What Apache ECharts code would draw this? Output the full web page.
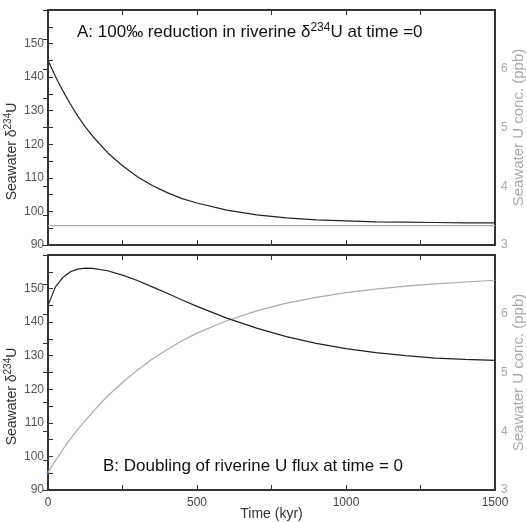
<!DOCTYPE html>
<html>
<head>
<meta charset="utf-8">
<script src="https://cdn.jsdelivr.net/npm/echarts@6/dist/echarts.min.js"></script>
<style>
  html, body { margin: 0; padding: 0; background: #fff; }
  #chart { width: 527px; height: 522px; }
</style>
</head>
<body>
<div id="chart"></div>
<script>
// time axis (kyr)
var timeKyr = [0, 25, 50, 75, 100, 125, 150, 200, 250, 300, 350, 400, 450, 500,
               600, 700, 800, 900, 1000, 1100, 1200, 1300, 1400, 1500];

// panel A: seawater d234U and U conc.
var deltaA = [145.0, 140.2, 135.9, 132.0, 128.4, 125.2, 122.4, 117.5, 113.6, 110.3, 107.7, 105.6, 103.8, 102.5,
              100.4, 99.0, 98.1, 97.5, 97.2, 96.9, 96.8, 96.7, 96.6, 96.6];
var concA = [3.33, 3.33, 3.33, 3.33, 3.33, 3.33, 3.33, 3.33, 3.33, 3.33, 3.33, 3.33, 3.33, 3.33,
             3.33, 3.33, 3.33, 3.33, 3.33, 3.33, 3.33, 3.33, 3.33, 3.33];

// panel B
var deltaB = [145.0, 150.5, 153.3, 155.0, 155.8, 156.1, 156.0, 155.3, 154.0, 152.4, 150.5, 148.6, 146.6, 144.7,
              141.2, 138.2, 135.7, 133.7, 132.1, 130.9, 130.0, 129.3, 128.9, 128.6];
var concB = [3.30, 3.50, 3.69, 3.87, 4.03, 4.18, 4.33, 4.60, 4.83, 5.04, 5.23, 5.39, 5.54, 5.67,
             5.88, 6.05, 6.18, 6.28, 6.36, 6.42, 6.47, 6.51, 6.54, 6.57];

function pairs(xs, ys) {
    return xs.map(function (x, i) { return [x, ys[i]]; });
}

var chart = echarts.init(document.getElementById('chart'));
var font = 'Liberation Sans, Arial, sans-serif';
var supStyle = { fontSize: 10, fontFamily: font, padding: [0, 0, 8, 0], verticalAlign: 'bottom' };

function xAxisFor(grid, pos, showLabel) {
    return {
        type: 'value', gridIndex: grid, position: pos, min: 0, max: 1500, interval: 250,
        axisLine: { show: false },
        axisTick: { inside: true, length: 5, lineStyle: { color: '#333' } },
        splitLine: { show: false },
        axisLabel: {
            show: showLabel, color: '#444', fontSize: 12, fontFamily: font, margin: 7,
            formatter: function (v) { return v % 500 === 0 ? v : ''; }
        },
        name: showLabel ? 'Time (kyr)' : '', nameLocation: 'middle', nameGap: 17, nameMoveOverlap: false,
        nameTextStyle: { color: '#333', fontSize: 14, fontFamily: font }
    };
}

function leftAxis(grid) {
    return {
        type: 'value', gridIndex: grid, position: 'left', min: 90, max: 160, interval: 5,
        axisLine: { show: false },
        axisTick: { inside: true, length: 5, lineStyle: { color: '#333' } },
        splitLine: { show: false },
        axisLabel: {
            color: '#555', fontSize: 12, fontFamily: font, margin: 4,
            formatter: function (v) { return (v % 10 === 0 && v < 160) ? v : ''; }
        },
        // label sits a bit below the panel centre in the original
        name: 'Seawater \u03b4{sup|234}U', nameLocation: 'middle', nameRotate: 90, nameGap: 27, nameMoveOverlap: false,
        nameTextStyle: { color: '#333', fontSize: 14, fontFamily: font, padding: [0, 48, 0, 0], rich: { sup: supStyle } }
    };
}

function rightAxis(grid) {
    return {
        type: 'value', gridIndex: grid, position: 'right', min: 3, max: 7, interval: 0.5,
        axisLine: { show: false },
        axisTick: { inside: true, length: 5, lineStyle: { color: '#333' } },
        splitLine: { show: false },
        axisLabel: {
            color: '#aaa', fontSize: 12, fontFamily: font, margin: 6,
            formatter: function (v) { return (v % 1 === 0 && v < 7) ? v : ''; }
        },
        name: 'Seawater U conc. (ppb)', nameLocation: 'middle', nameRotate: 90, nameGap: 16, nameMoveOverlap: false,
        nameTextStyle: { color: '#aaa', fontSize: 15, fontFamily: font }
    };
}

function lineSeries(x, y, data, color) {
    return {
        type: 'line', xAxisIndex: x, yAxisIndex: y, data: data,
        showSymbol: false, smooth: false,
        lineStyle: { color: color, width: 1.2 }, silent: true
    };
}

var option = {
    animation: false,
    backgroundColor: '#fff',
    title: [
        {
            text: 'A: 100\u2030 reduction in riverine \u03b4{sup|234}U at time =0',
            left: 72, top: 17,
            textStyle: { color: '#111', fontSize: 17, fontWeight: 'normal', fontFamily: font, rich: { sup: { fontSize: 12, fontFamily: font, padding: [0, 0, 9, 0], verticalAlign: 'bottom' } } }
        },
        {
            text: 'B: Doubling of riverine U flux at time = 0',
            left: 98, top: 453,
            textStyle: { color: '#111', fontSize: 17, fontWeight: 'normal', fontFamily: font }
        }
    ],
    grid: [
        { left: 48, right: 32, top: 10, height: 235, show: true, borderColor: '#333', borderWidth: 2, outerBoundsMode: 'none' },
        { left: 48, right: 32, top: 255, height: 235, show: true, borderColor: '#333', borderWidth: 2, outerBoundsMode: 'none' }
    ],
    xAxis: [
        xAxisFor(0, 'bottom', false),
        xAxisFor(0, 'top', false),
        xAxisFor(1, 'bottom', true),
        xAxisFor(1, 'top', false)
    ],
    yAxis: [leftAxis(0), rightAxis(0), leftAxis(1), rightAxis(1)],
    series: [
        lineSeries(0, 1, pairs(timeKyr, concA), '#aaa'),
        lineSeries(0, 0, pairs(timeKyr, deltaA), '#222'),
        lineSeries(2, 3, pairs(timeKyr, concB), '#aaa'),
        lineSeries(2, 2, pairs(timeKyr, deltaB), '#222'),
        {
            type: 'scatter', xAxisIndex: 2, yAxisIndex: 3, data: [[0, concB[0]]],
            symbolSize: 3, itemStyle: { color: '#3a8fd8' }, silent: true
        }
    ]
};

chart.setOption(option);
window.addEventListener('resize', chart.resize);
</script>
</body>
</html>
